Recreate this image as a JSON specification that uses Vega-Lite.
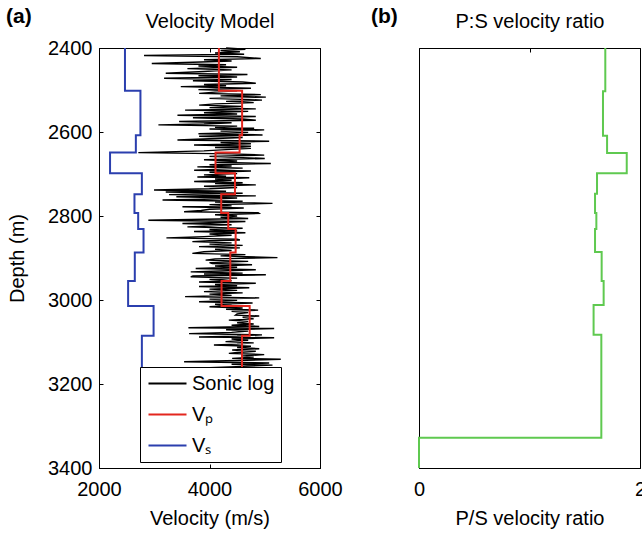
{
"$schema": "https://vega.github.io/schema/vega-lite/v6.json",
"background": "white",
"padding": {"left": 5, "top": 5, "right": 0, "bottom": 5},
"bounds": "flush",
"spacing": 99,
"config": {
  "font": "Liberation Sans",
  "view": {"stroke": "black", "strokeWidth": 1},
  "axis": {"domainColor": "black", "tickColor": "black", "labelColor": "black", "titleColor": "black", "labelFontSize": 20, "titleFontSize": 20, "titleFontWeight": "normal", "grid": false, "tickSize": -4, "labelFlush": false, "labelFont": "Liberation Sans", "titleFont": "Liberation Sans"},
  "title": {"fontSize": 21, "fontWeight": "bold", "color": "black", "anchor": "start", "frame": "group", "font": "Liberation Sans"}
},
"datasets": {
  "vel": [
    {"depth": 2400, "vp": 4170, "vs": 2470},
    {"depth": 2502, "vp": 4590, "vs": 2750},
    {"depth": 2608, "vp": 4545, "vs": 2667},
    {"depth": 2649, "vp": 4109, "vs": 2200},
    {"depth": 2698, "vp": 4461, "vs": 2776},
    {"depth": 2748, "vp": 4212, "vs": 2642},
    {"depth": 2793, "vp": 4339, "vs": 2709},
    {"depth": 2831, "vp": 4473, "vs": 2806},
    {"depth": 2887, "vp": 4376, "vs": 2648},
    {"depth": 2955, "vp": 4218, "vs": 2527},
    {"depth": 3014, "vp": 4727, "vs": 2988},
    {"depth": 3085, "vp": 4588, "vs": 2776},
    {"depth": 3330, "vp": 4588, "vs": 2776}
  ],
  "ratio": [
    {"depth": 2400, "ratio": 1.686},
    {"depth": 2503, "ratio": 1.665},
    {"depth": 2609, "ratio": 1.702},
    {"depth": 2650, "ratio": 1.88},
    {"depth": 2698, "ratio": 1.611},
    {"depth": 2747, "ratio": 1.593},
    {"depth": 2793, "ratio": 1.605},
    {"depth": 2831, "ratio": 1.593},
    {"depth": 2886, "ratio": 1.653},
    {"depth": 2955, "ratio": 1.671},
    {"depth": 3012, "ratio": 1.58},
    {"depth": 3083, "ratio": 1.65},
    {"depth": 3328, "ratio": 0},
    {"depth": 3400, "ratio": 0}
  ],
  "sonic": [
    {"depth": 2400, "v": 4300}, {"depth": 2403, "v": 4650}, {"depth": 2406, "v": 4200}, {"depth": 2409, "v": 4550},
    {"depth": 2412, "v": 4100}, {"depth": 2415, "v": 4627}, {"depth": 2418, "v": 2815}, {"depth": 2421, "v": 4500},
    {"depth": 2425, "v": 4928}, {"depth": 2428, "v": 3900}, {"depth": 2431, "v": 4400}, {"depth": 2434, "v": 3700},
    {"depth": 2437, "v": 2955}, {"depth": 2440, "v": 4300}, {"depth": 2443, "v": 3800}, {"depth": 2446, "v": 4500},
    {"depth": 2449, "v": 3600}, {"depth": 2452, "v": 4400}, {"depth": 2456, "v": 3900}, {"depth": 2460, "v": 3208},
    {"depth": 2463, "v": 4687}, {"depth": 2466, "v": 3800}, {"depth": 2469, "v": 4500}, {"depth": 2472, "v": 3178},
    {"depth": 2475, "v": 4400}, {"depth": 2478, "v": 3700}, {"depth": 2481, "v": 4600}, {"depth": 2484, "v": 4838},
    {"depth": 2487, "v": 3900}, {"depth": 2490, "v": 4300}, {"depth": 2492, "v": 3480}, {"depth": 2496, "v": 4750},
    {"depth": 2499, "v": 3800}, {"depth": 2502, "v": 4500}, {"depth": 2505, "v": 4100}, {"depth": 2508, "v": 3812},
    {"depth": 2511, "v": 4928}, {"depth": 2514, "v": 4200}, {"depth": 2517, "v": 5020}, {"depth": 2520, "v": 4000},
    {"depth": 2524, "v": 4950}, {"depth": 2527, "v": 4300}, {"depth": 2530, "v": 4800}, {"depth": 2533, "v": 4100},
    {"depth": 2536, "v": 3812}, {"depth": 2539, "v": 4600}, {"depth": 2542, "v": 4000}, {"depth": 2545, "v": 4838},
    {"depth": 2548, "v": 3558}, {"depth": 2551, "v": 4700}, {"depth": 2554, "v": 3900}, {"depth": 2557, "v": 4500},
    {"depth": 2560, "v": 3420}, {"depth": 2563, "v": 4838}, {"depth": 2566, "v": 3700}, {"depth": 2569, "v": 4600},
    {"depth": 2572, "v": 4838}, {"depth": 2575, "v": 3450}, {"depth": 2578, "v": 4400}, {"depth": 2581, "v": 3900},
    {"depth": 2583, "v": 3075}, {"depth": 2586, "v": 4500}, {"depth": 2589, "v": 4100}, {"depth": 2591, "v": 4808},
    {"depth": 2593, "v": 4000}, {"depth": 2595, "v": 4990}, {"depth": 2598, "v": 4200}, {"depth": 2601, "v": 4700},
    {"depth": 2604, "v": 3800}, {"depth": 2607, "v": 4960}, {"depth": 2610, "v": 3812}, {"depth": 2613, "v": 4600},
    {"depth": 2616, "v": 4000}, {"depth": 2619, "v": 3420}, {"depth": 2622, "v": 5080}, {"depth": 2625, "v": 4200},
    {"depth": 2628, "v": 4750}, {"depth": 2631, "v": 3720}, {"depth": 2634, "v": 4750}, {"depth": 2637, "v": 4100},
    {"depth": 2639, "v": 4750}, {"depth": 2642, "v": 4300}, {"depth": 2645, "v": 3900}, {"depth": 2649, "v": 2712},
    {"depth": 2652, "v": 4400}, {"depth": 2655, "v": 4990}, {"depth": 2658, "v": 4000}, {"depth": 2661, "v": 4600},
    {"depth": 2663, "v": 5000}, {"depth": 2666, "v": 3900}, {"depth": 2669, "v": 4500}, {"depth": 2672, "v": 4100},
    {"depth": 2675, "v": 5110}, {"depth": 2678, "v": 4000}, {"depth": 2681, "v": 4400}, {"depth": 2683, "v": 3780},
    {"depth": 2686, "v": 4600}, {"depth": 2689, "v": 4100}, {"depth": 2691, "v": 3722}, {"depth": 2693, "v": 4750},
    {"depth": 2696, "v": 4000}, {"depth": 2699, "v": 4500}, {"depth": 2702, "v": 3900}, {"depth": 2705, "v": 4300},
    {"depth": 2707, "v": 3780}, {"depth": 2709, "v": 4720}, {"depth": 2712, "v": 4100}, {"depth": 2715, "v": 4400},
    {"depth": 2718, "v": 3722}, {"depth": 2721, "v": 4600}, {"depth": 2723, "v": 4100}, {"depth": 2726, "v": 4838},
    {"depth": 2729, "v": 3900}, {"depth": 2732, "v": 4500}, {"depth": 2735, "v": 4000}, {"depth": 2738, "v": 2996},
    {"depth": 2741, "v": 4300}, {"depth": 2743, "v": 3208}, {"depth": 2746, "v": 4600}, {"depth": 2749, "v": 3268},
    {"depth": 2752, "v": 4838}, {"depth": 2754, "v": 3400}, {"depth": 2757, "v": 4500}, {"depth": 2760, "v": 3900},
    {"depth": 2762, "v": 3150}, {"depth": 2765, "v": 4600}, {"depth": 2767, "v": 4100}, {"depth": 2770, "v": 5140},
    {"depth": 2773, "v": 4000}, {"depth": 2776, "v": 4400}, {"depth": 2778, "v": 3510}, {"depth": 2781, "v": 4620},
    {"depth": 2784, "v": 4000}, {"depth": 2787, "v": 3850}, {"depth": 2790, "v": 3540}, {"depth": 2792, "v": 4880},
    {"depth": 2794, "v": 4900}, {"depth": 2797, "v": 4100}, {"depth": 2800, "v": 4500}, {"depth": 2803, "v": 4200},
    {"depth": 2806, "v": 4700}, {"depth": 2810, "v": 2893}, {"depth": 2813, "v": 4650}, {"depth": 2816, "v": 4000},
    {"depth": 2818, "v": 3510}, {"depth": 2821, "v": 4400}, {"depth": 2824, "v": 3900}, {"depth": 2826, "v": 3600},
    {"depth": 2829, "v": 4600}, {"depth": 2832, "v": 4000}, {"depth": 2835, "v": 4500}, {"depth": 2837, "v": 3720},
    {"depth": 2840, "v": 4650}, {"depth": 2843, "v": 4000}, {"depth": 2846, "v": 4400}, {"depth": 2849, "v": 3900},
    {"depth": 2852, "v": 3220}, {"depth": 2855, "v": 4500}, {"depth": 2857, "v": 4550}, {"depth": 2859, "v": 4000},
    {"depth": 2861, "v": 3690}, {"depth": 2864, "v": 4400}, {"depth": 2867, "v": 4000}, {"depth": 2870, "v": 4600},
    {"depth": 2873, "v": 3810}, {"depth": 2876, "v": 4550}, {"depth": 2879, "v": 4100}, {"depth": 2882, "v": 4400},
    {"depth": 2885, "v": 3900}, {"depth": 2889, "v": 3690}, {"depth": 2892, "v": 4650}, {"depth": 2895, "v": 4200},
    {"depth": 2899, "v": 5230}, {"depth": 2902, "v": 4100}, {"depth": 2905, "v": 3930}, {"depth": 2908, "v": 4700},
    {"depth": 2911, "v": 4000}, {"depth": 2913, "v": 4050}, {"depth": 2916, "v": 4770}, {"depth": 2919, "v": 4100},
    {"depth": 2922, "v": 4500}, {"depth": 2925, "v": 3750}, {"depth": 2928, "v": 4838}, {"depth": 2931, "v": 4200},
    {"depth": 2933, "v": 3660}, {"depth": 2936, "v": 4600}, {"depth": 2938, "v": 3900}, {"depth": 2940, "v": 5020},
    {"depth": 2943, "v": 3700}, {"depth": 2945, "v": 3660}, {"depth": 2948, "v": 4500}, {"depth": 2951, "v": 4000},
    {"depth": 2954, "v": 4400}, {"depth": 2957, "v": 3810}, {"depth": 2960, "v": 4838}, {"depth": 2963, "v": 4100},
    {"depth": 2966, "v": 4500}, {"depth": 2968, "v": 3810}, {"depth": 2971, "v": 4720}, {"depth": 2974, "v": 4000},
    {"depth": 2977, "v": 4500}, {"depth": 2980, "v": 3900}, {"depth": 2983, "v": 4600}, {"depth": 2986, "v": 4000},
    {"depth": 2989, "v": 4400}, {"depth": 2992, "v": 3558}, {"depth": 2995, "v": 4900}, {"depth": 2998, "v": 4000},
    {"depth": 3001, "v": 4500}, {"depth": 3004, "v": 3810}, {"depth": 3007, "v": 4780}, {"depth": 3010, "v": 4100},
    {"depth": 3013, "v": 4400}, {"depth": 3016, "v": 4000}, {"depth": 3019, "v": 4600}, {"depth": 3022, "v": 4300},
    {"depth": 3024, "v": 4880}, {"depth": 3027, "v": 4400}, {"depth": 3030, "v": 4700}, {"depth": 3033, "v": 4500},
    {"depth": 3036, "v": 4470}, {"depth": 3038, "v": 4900}, {"depth": 3041, "v": 4600}, {"depth": 3045, "v": 4800},
    {"depth": 3048, "v": 4350}, {"depth": 3051, "v": 4700}, {"depth": 3054, "v": 4500}, {"depth": 3057, "v": 4800},
    {"depth": 3060, "v": 4400}, {"depth": 3063, "v": 4900}, {"depth": 3066, "v": 3618}, {"depth": 3068, "v": 5170},
    {"depth": 3071, "v": 4300}, {"depth": 3074, "v": 4700}, {"depth": 3077, "v": 4400}, {"depth": 3080, "v": 3630},
    {"depth": 3083, "v": 4950}, {"depth": 3086, "v": 4500}, {"depth": 3088, "v": 3810}, {"depth": 3090, "v": 5170},
    {"depth": 3093, "v": 4400}, {"depth": 3096, "v": 4700}, {"depth": 3099, "v": 4290}, {"depth": 3102, "v": 4800},
    {"depth": 3105, "v": 4500}, {"depth": 3107, "v": 4080}, {"depth": 3110, "v": 4750}, {"depth": 3113, "v": 4500},
    {"depth": 3116, "v": 4900}, {"depth": 3119, "v": 4410}, {"depth": 3122, "v": 4838}, {"depth": 3125, "v": 4500},
    {"depth": 3127, "v": 4350}, {"depth": 3130, "v": 4990}, {"depth": 3133, "v": 4600}, {"depth": 3136, "v": 4800},
    {"depth": 3139, "v": 4410}, {"depth": 3141, "v": 5290}, {"depth": 3144, "v": 4500}, {"depth": 3147, "v": 3540},
    {"depth": 3150, "v": 5080}, {"depth": 3153, "v": 4400}, {"depth": 3155, "v": 5140}, {"depth": 3158, "v": 4600},
    {"depth": 3161, "v": 4000}, {"depth": 3164, "v": 5200}, {"depth": 3167, "v": 4500}, {"depth": 3170, "v": 3700},
    {"depth": 3173, "v": 5100}, {"depth": 3176, "v": 4600}
  ]
},
"hconcat": [
  {
    "width": 221, "height": 420,
    "title": {"text": "(a)", "dx": -93, "dy": 19},
    "layer": [
      {
        "data": {"name": "sonic"},
        "mark": {"type": "line", "strokeWidth": 1.4},
        "encoding": {
          "x": {"field": "v", "type": "quantitative", "scale": {"domain": [2000, 6000], "nice": false, "zero": false},
                "axis": {"values": [2000, 4000, 6000], "format": "d", "title": "Velocity (m/s)", "labelPadding": 15, "titlePadding": 9}},
          "y": {"field": "depth", "type": "quantitative", "scale": {"domain": [2400, 3400], "reverse": true, "nice": false, "zero": false},
                "axis": {"values": [2400, 2600, 2800, 3000, 3200, 3400], "format": "d", "title": "Depth (m)", "labelPadding": 11, "titlePadding": 20}},
          "order": {"field": "depth", "type": "quantitative"},
          "color": {"datum": "Sonic log", "type": "nominal", "title": null,
                    "scale": {"domain": ["Sonic log", "vp", "vs"], "range": ["black", "#e3261e", "#2b3fae"]},
                    "legend": {"orient": "none", "legendX": 41, "legendY": 319, "title": null, "zindex": 1,
                               "fillColor": "white", "strokeColor": "black", "padding": 6,
                               "symbolType": "M-2,0H2", "symbolSize": 361, "symbolStrokeWidth": 2, "symbolOffset": 11,
                               "labelFontSize": 20, "labelColor": "black", "labelOffset": 14, "rowPadding": 10,
                               "labelExpr": "datum.value == 'vp' ? 'V\u209a' : datum.value == 'vs' ? 'V\u209b' : 'Sonic log'"}}
        }
      },
      {
        "data": {"name": "vel"},
        "transform": [{"fold": ["vp", "vs"], "as": ["series", "v"]}],
        "mark": {"type": "line", "interpolate": "step-before", "strokeWidth": 2},
        "encoding": {
          "x": {"field": "v", "type": "quantitative",
                "axis": {"orient": "top", "values": [2000, 4000, 6000], "labels": false, "title": "Velocity Model", "titlePadding": 16}},
          "y": {"field": "depth", "type": "quantitative",
                "axis": {"orient": "right", "values": [2400, 2600, 2800, 3000, 3200, 3400], "labels": false, "title": null}},
          "order": {"field": "depth", "type": "quantitative"},
          "color": {"field": "series", "type": "nominal", "title": null}
        }
      }
    ],
    "resolve": {"axis": {"x": "independent", "y": "independent"}}
  },
  {
    "width": 221, "height": 420,
    "title": {"text": "(b)", "dx": -48, "dy": 19},
    "data": {"name": "ratio"},
    "layer": [
      {
        "mark": {"type": "line", "interpolate": "step-before", "strokeWidth": 2, "color": "#5fc950"},
        "encoding": {
          "x": {"field": "ratio", "type": "quantitative", "scale": {"domain": [0, 2], "nice": false, "zero": false},
                "axis": {"values": [0, 1, 2], "format": "d", "title": "P/S velocity ratio", "labelPadding": 15, "titlePadding": 9}},
          "y": {"field": "depth", "type": "quantitative", "scale": {"domain": [2400, 3400], "reverse": true, "nice": false, "zero": false}, "axis": null},
          "order": {"field": "depth", "type": "quantitative"}
        }
      },
      {
        "mark": {"type": "line", "interpolate": "step-before", "strokeWidth": 2, "color": "#5fc950", "opacity": 0},
        "encoding": {
          "x": {"field": "ratio", "type": "quantitative",
                "axis": {"orient": "top", "values": [0, 1, 2], "labels": false, "title": "P:S velocity ratio", "titlePadding": 16}},
          "y": {"field": "depth", "type": "quantitative", "axis": null},
          "order": {"field": "depth", "type": "quantitative"}
        }
      }
    ],
    "resolve": {"axis": {"x": "independent"}}
  }
]
}
